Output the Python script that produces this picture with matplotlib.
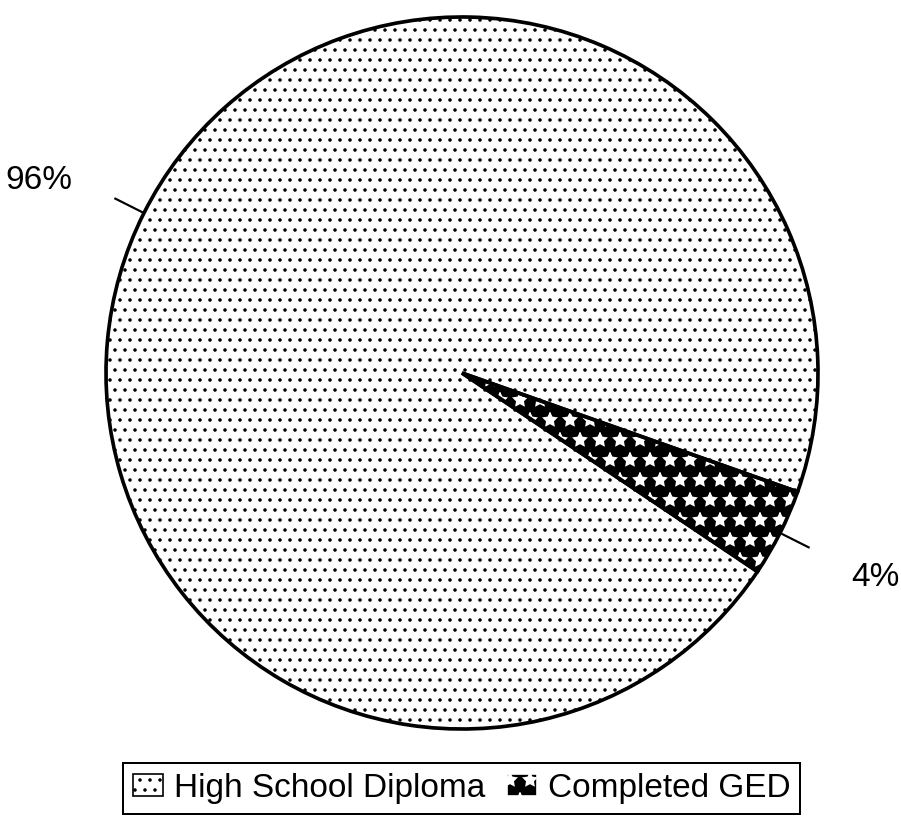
import numpy as np
import matplotlib
matplotlib.use("Agg")
from matplotlib import pyplot as plt
from matplotlib.patches import Patch, Wedge

#-----------------------Data-----------------------#

categories = ["High School Diploma", "Completed GED"]
shares = [96, 4]
pct_labels = ["96%", "4%"]

#-----------------------Layout-----------------------#

W, H = 901, 824
dpi = 120
center = (462, H - 373)
radius = 356
label_pos = [(39, H - 180), (875, H - 577)]

plt.rcParams['font.family'] = ['Liberation Sans', 'DejaVu Sans']
plt.rcParams['hatch.linewidth'] = 0.9

fig = plt.figure(figsize=(W / dpi, H / dpi), dpi=dpi)
ax = fig.add_axes([0, 0, 1, 1])

wedges, _ = ax.pie(shares, center=center, radius=radius, startangle=-19.5,
                   counterclock=True, frame=True,
                   wedgeprops=dict(linewidth=0))

# high school: white with dots, GED: black with white stars
wedges[0].set_facecolor("white")
wedges[0].set_edgecolor("black")
wedges[0].set_hatch("..")
wedges[1].set_facecolor("black")
wedges[1].set_edgecolor("white")
wedges[1].set_hatch("*")

# outlines drawn on top
for w in wedges:
    ax.add_patch(Wedge(w.center, w.r, w.theta1, w.theta2,
                       facecolor="none", edgecolor="black", linewidth=2.2))

# leader lines + labels
for w, lab, pos in zip(wedges, pct_labels, label_pos):
    ang = np.deg2rad((w.theta1 + w.theta2) / 2)
    r0, r1 = w.r * 1.0, w.r * 1.09
    ax.plot([center[0] + r0 * np.cos(ang), center[0] + r1 * np.cos(ang)],
            [center[1] + r0 * np.sin(ang), center[1] + r1 * np.sin(ang)],
            color="black", linewidth=1.3)
    ax.text(pos[0], pos[1], lab, fontsize=20, ha="center", va="center")

ax.set_xlim(0, W)
ax.set_ylim(0, H)
ax.axis("off")

handles = [Patch(facecolor="white", edgecolor="black", hatch="..", linewidth=1.0),
           Patch(facecolor="black", edgecolor="white", hatch="*", linewidth=1.0)]
leg = fig.legend(handles, categories, loc="center",
                 bbox_to_anchor=(461.5 / W, 1 - 788 / H), ncol=2,
                 fontsize=20, frameon=True, fancybox=False, framealpha=1,
                 borderpad=0.3, handlelength=0.9, handleheight=0.66,
                 handletextpad=0.33, columnspacing=0.66, borderaxespad=0)
leg.get_frame().set_edgecolor("black")
leg.get_frame().set_linewidth(1.2)

fig.savefig("out.png", dpi=dpi)
